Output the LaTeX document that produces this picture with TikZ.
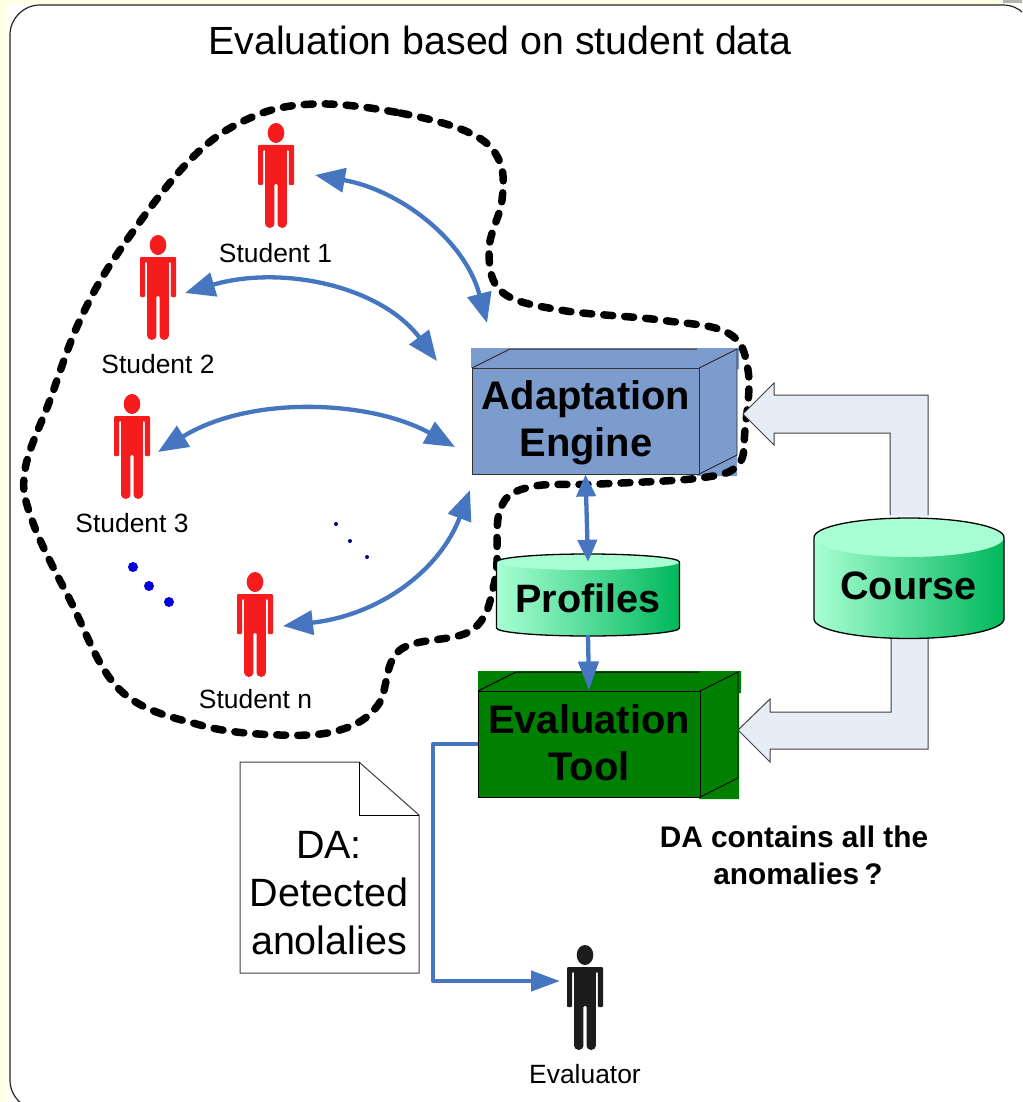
\documentclass[tikz,border=0pt]{standalone}
\usepackage{fontspec}
\setmainfont{Liberation Sans}
\usetikzlibrary{arrows.meta,calc}
\definecolor{pageyellow}{HTML}{FFFFE3}
\definecolor{aeblue}{HTML}{7C9CCE}
\definecolor{etgreen}{HTML}{008000}
\definecolor{cylA}{HTML}{A8FFD4}
\definecolor{cylB}{HTML}{00B85C}
\definecolor{conblue}{HTML}{4676C0}
\definecolor{pale}{HTML}{E6EDF7}
\definecolor{studred}{HTML}{F41C1C}
\definecolor{evalblack}{HTML}{1C1C1C}
\tikzset{
  x=1pt,y=-1pt,
  boxnode/.style={draw=black!80,line width=1pt,inner sep=0pt},
  boxtext/.style={inner sep=0pt,align=center,font=\fontsize{39.9}{47.5}\selectfont\bfseries},
  cylnode/.style={inner sep=0pt,align=center,font=\fontsize{39.6}{47}\selectfont\bfseries},
  stud/.style={inner sep=0pt,font=\fontsize{26.4}{30}\selectfont},
  personbox/.style={inner sep=0pt,minimum width=36pt,minimum height=107pt},
  con/.style={draw=conblue,line width=4.3pt,line join=round},
  bi/.style={con,{Triangle[length=30pt,width=24pt]}-{Triangle[length=30pt,width=24pt]}},
  blob/.style={draw=black,line width=7.5pt,line cap=round,dash pattern=on 9pt off 12pt},
  blockarrow/.style={draw=black!75,line width=1pt},
  dot/.style={circle,fill=#1,inner sep=0pt}
}
% \PersonAt{name}{head x}{head y}{colour}
\newcommand{\PersonAt}[4]{%
  \begin{scope}[shift={(#2,#3)}]
    \node[personbox] (#1) at (0,41) {};
    \fill[#4] (0,0) ellipse [x radius=8.3pt,y radius=10pt];
    \fill[#4,rounded corners=1pt] (-18,12) -- (18,12) -- (18,52) -- (12.8,52) -- (12.8,17) -- (10.8,17)
      -- (10.8,90) arc[start angle=0,end angle=-180,x radius=4.6pt,y radius=5pt]
      -- (1.6,51) -- (-1.6,51) -- (-1.6,90) arc[start angle=0,end angle=-180,x radius=4.6pt,y radius=5pt]
      -- (-10.8,17) -- (-12.8,17) -- (-12.8,52) -- (-18,52) -- cycle;
  \end{scope}}
% \Cyl{left}{right}{top cy}{bottom cy}{ry}
\newcommand{\Cyl}[5]{%
  \pgfmathsetmacro{\cylrx}{(#2-#1)/2}
  \shade[left color=cylA,right color=cylB]
    (#1,#3) -- (#1,#4) arc[start angle=180,end angle=360,x radius=\cylrx pt,y radius=#5pt]
    -- (#2,#3) arc[start angle=0,end angle=180,x radius=\cylrx pt,y radius=#5pt] -- cycle;
  \fill[cylA] ({(#1+#2)/2},#3) ellipse [x radius=\cylrx pt,y radius=#5pt];
  \draw[black,line width=1.3pt]
    (#1,#3) -- (#1,#4) arc[start angle=180,end angle=360,x radius=\cylrx pt,y radius=#5pt]
    -- (#2,#3) arc[start angle=0,end angle=180,x radius=\cylrx pt,y radius=#5pt] -- cycle;}
\begin{document}
\begin{tikzpicture}
\useasboundingbox (0,0) rectangle (1022,1102);
\clip (0,0) rectangle (1022,1102);
% page
\fill[pageyellow] (0,0) rectangle (1022,1102);
\fill[black!30] (1003,0) rectangle (1022,3);
\fill[white] (7,4) rectangle (1022,1102);
\draw[black!85,line width=1.2pt,rounded corners=30pt] (10,5) rectangle (1033,1110);
\node[inner sep=0pt,font=\fontsize{39.3}{46}\selectfont] (title) at (500,40) {Evaluation based on student data};

% Adaptation Engine block
\fill[aeblue] (471,348) -- (739,348) -- (739,369) -- (737,369) -- (737,476) -- (697,476) -- (697,474) -- (472,474) -- (472,368) -- (471,368) -- cycle;
\draw[black!80,line width=1pt] (472,368) -- (510,349) -- (697,349);
\draw[black!85,line width=0.9pt] (699,368) -- (737,349) -- (737,455) -- (699,474);
\node[boxnode,minimum width=227pt,minimum height=106pt] (ae) at (585.5,421) {};
\node[boxtext] (aet) at (586,423) {Adaptation\\Engine};

% dashed boundary
\draw[blob] plot[smooth cycle,tension=0.62] coordinates {
 (315,104) (400,113) (470,133) (499,160) (502,200) (489,250) (502,292) (560,310) (660,320) (728,333)
 (748,370) (745,430) (738,465) (700,478) (600,484) (530,487) (500,510) (495,580) (472,630) (400,650)
 (378,705) (340,730) (280,735) (200,725) (120,690) (70,600) (32,520) (25,470) (50,400) (80,320) (120,250)
 (190,160) (250,118)};

% Block arrows
\fill[pale] (928,516) -- (928,395) -- (774,395) -- (774,383) -- (743,414) -- (774,445) -- (774,433) -- (890,433) -- (890,516) -- cycle;
\draw[blockarrow] (928,515) -- (928,395) -- (774,395) -- (774,383) -- (743,414) -- (774,445) -- (774,433) -- (890,433) -- (890,515);
\fill[pale] (928,630) -- (928,749) -- (770,749) -- (770,762) -- (738,730) -- (770,699) -- (770,712) -- (891,712) -- (891,630) -- cycle;
\draw[blockarrow] (928,630) -- (928,749) -- (770,749) -- (770,762) -- (738,730) -- (770,699) -- (770,712) -- (891,712) -- (891,630);

% Cylinders
\Cyl{496.5}{679.5}{562}{628}{8}
\node[cylnode,minimum width=183pt,minimum height=73pt] (pr) at (588,598.5) {Profiles};
\Cyl{814}{1004}{537.5}{619}{19.5}
\node[cylnode] (co) at (908.5,586) {Course};

% Evaluation Tool block
\fill[etgreen] (478,671) -- (741,671) -- (741,693) -- (739,693) -- (739,799) -- (699,799) -- (699,797) -- (478,797) -- cycle;
\draw[black,line width=1pt] (478,691) -- (516,672) -- (699,672);
\draw[black,line width=0.9pt] (700,691) -- (738,672) -- (738,778) -- (700,797);
\node[boxnode,draw=black,minimum width=222pt,minimum height=106pt] (et) at (589,744) {};
\node[boxtext] (ett) at (589,742.5) {Evaluation\\Tool};

% Document
\draw[black!75,line width=1pt] (240,762) -- (359,762) -- (419,815) -- (419,973) -- (240,973) -- cycle;
\draw[black,line width=1pt] (359,762) -- (359,815) -- (419,815);
\node[inner sep=0pt,align=center,font=\fontsize{39.5}{48}\selectfont] (da) at (329,893) {DA:\\Detected\\anolalies};

% People
\PersonAt{s1}{276}{133}{studred}
\PersonAt{s2}{158}{245}{studred}
\PersonAt{s3}{132}{404}{studred}
\PersonAt{sn}{255}{582}{studred}
\PersonAt{ev}{585}{955}{evalblack}
\node[stud] (l1) at (275.5,253) {Student 1};
\node[stud] (l2) at (158,364) {Student 2};
\node[stud] (l3) at (132,523) {Student 3};
\node[stud] (ln) at (255.5,699) {Student n};
\node[stud] (lev) at (585,1074) {Evaluator};

% dots
\node[dot=blue!85!black,minimum size=10pt] (d1) at (133,567) {};
\node[dot=blue!85!black,minimum size=10pt] (d2) at (149,586) {};
\node[dot=blue!85!black,minimum size=10pt] (d3) at (169,602) {};
\node[dot=blue!60!black,minimum size=4pt] (d4) at (336,524) {};
\node[dot=blue!60!black,minimum size=4pt] (d5) at (350,541) {};
\node[dot=blue!60!black,minimum size=4pt] (d6) at (367,557) {};

% question
\node[inner sep=0pt,align=center,font=\fontsize{29.8}{37}\selectfont\bfseries] (q) at (794,855) {DA contains all the\\\hspace{8pt}anomalies\hspace{-3pt} ?};

% Connector ends
\coordinate (s1e) at (315,175);
\coordinate (a1) at (487,323);
\coordinate (s2e) at (185,293);
\coordinate (a2) at (437,361);
\coordinate (s3e) at (158,452);
\coordinate (a3) at (455,447);
\coordinate (sne) at (283,626);
\coordinate (a4) at (470,490);
\coordinate (evin) at (560,981);
\coordinate (bend) at (433,981);

\draw[bi] (s1e) .. controls (400,190) and (465,240) .. (a1);
\draw[bi] (s2e) .. controls (280,265) and (380,285) .. (a2);
\draw[bi] (s3e) .. controls (250,395) and (370,400) .. (a3);
\draw[bi] (sne) .. controls (380,615) and (440,570) .. (a4);
\draw[con,{Triangle[length=22pt,width=19pt]}-{Triangle[length=22pt,width=19pt]}] (ae.south) -- (pr.north);
\draw[con,-{Triangle[length=29pt,width=20pt]}] (pr.south) -- (et.north);
\draw[con,-{Triangle[length=29pt,width=20pt]}] (et.west) -| (bend) -- (evin);
\end{tikzpicture}
\end{document}
